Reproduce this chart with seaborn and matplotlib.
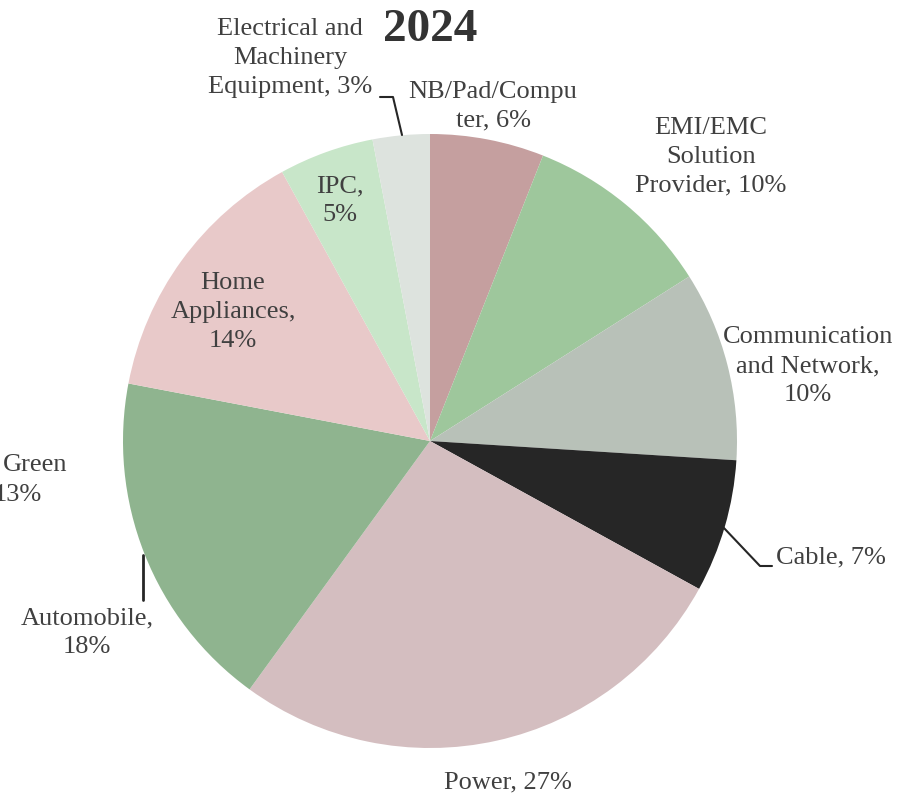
import matplotlib
matplotlib.use("Agg")
import matplotlib.pyplot as plt
import seaborn as sns

categories = ["NB/Pad/Compu\nter, 6%", "EMI/EMC\nSolution\nProvider, 10%", "Communication\nand Network,\n10%",
              "Cable, 7%", "Power, 27%", "Automobile,\n18%", "Home\nAppliances,\n14%", "IPC,\n5%",
              "Electrical and\nMachinery\nEquipment, 3%"]
values = [6, 10, 10, 7, 27, 18, 14, 5, 3]
colors = ["#c59f9f", "#9ec79c", "#b8c1b8", "#262626", "#d4bec0", "#8fb48f", "#e8c9c9", "#c8e6c9", "#dde3de"]
title = "2024"

sns.set_theme(style="white")
plt.rcParams['font.family'] = ['Liberation Serif', 'DejaVu Serif']

W, H = 913, 798
fig = plt.figure(figsize=(W / 100, H / 100), dpi=100)
ax = fig.add_axes([0, 0, 1, 1])

def Y(py):
    return H - py

cx, cy, r = 430, 441, 307
ax.pie(values, colors=colors, startangle=90, counterclock=False,
       center=(cx, Y(cy)), radius=r, frame=True,
       wedgeprops=dict(linewidth=0))
ax.set_xlim(0, W)
ax.set_ylim(0, H)
ax.axis("off")

tc = "#404040"
fs = 19
ls = 1.4
pos = [(493, 106, "center"), (711, 157, "center"), (808, 366, "center"),
       (776, 557, "left"), (508, 782, "center"), (87, 633, "center"),
       (233, 312, "center"), (340, 201, "center"), (290, 58, "center")]
for lab, (x, y, ha) in zip(categories, pos):
    ax.text(x, Y(y), lab, ha=ha, va="center", fontsize=fs, color=tc,
            linespacing=ls)

# stray label partially outside (as in the reference)
ax.text(35, Y(465), "Green", ha="center", va="center", fontsize=fs, color=tc)
ax.text(18, Y(495), "13%", ha="center", va="center", fontsize=fs, color=tc)

lc = "#262626"
ax.plot([380, 393, 402], [Y(97), Y(97), Y(135)], color=lc, lw=1.5)
ax.plot([723, 760, 772], [Y(527), Y(566), Y(566)], color=lc, lw=1.5)
ax.plot([143, 143], [Y(555), Y(600)], color=lc, lw=2)

ax.text(430, Y(30), title, ha="center", va="center", fontsize=34,
        fontweight="bold", color="#333333")

fig.savefig("out.png", dpi=100)
